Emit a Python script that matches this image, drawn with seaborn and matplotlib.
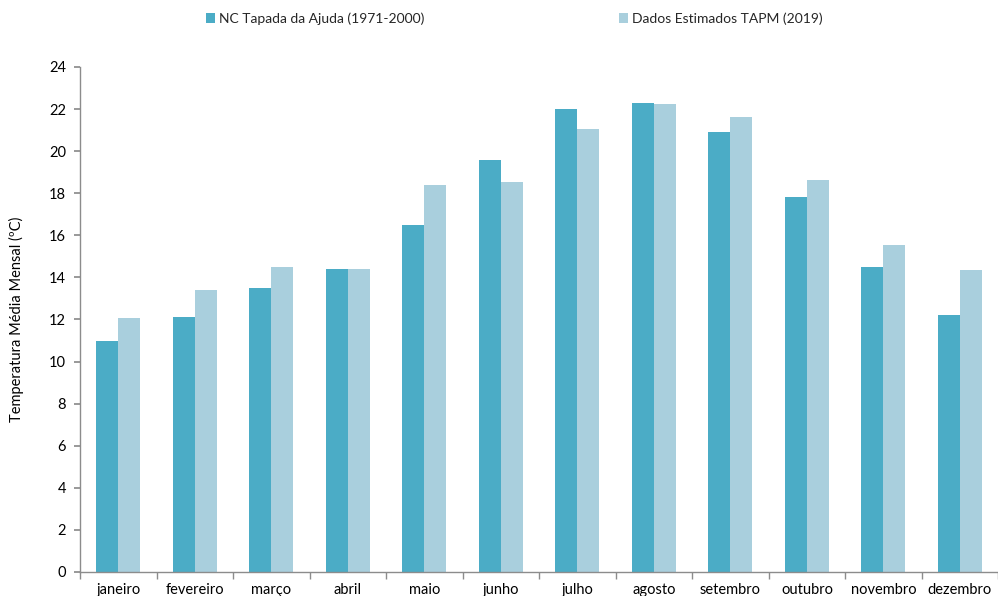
import matplotlib
matplotlib.use("Agg")
import matplotlib.pyplot as plt
from matplotlib.patches import Patch
import numpy as np
import pandas as pd
import seaborn as sns

months = ["janeiro", "fevereiro", "março", "abril", "maio", "junho",
          "julho", "agosto", "setembro", "outubro", "novembro", "dezembro"]
normal_1971_2000 = [11.0, 12.1, 13.5, 14.4, 16.5, 19.6, 22.0, 22.3, 20.9, 17.8, 14.5, 12.2]
tapm_2019 = [12.05, 13.4, 14.5, 14.4, 18.4, 18.55, 21.05, 22.25, 21.6, 18.65, 15.55, 14.35]
series_names = ["NC Tapada da Ajuda (1971-2000)", "Dados Estimados TAPM (2019)"]
colors = ["#4BACC6", "#A9CFDD"]

df = pd.DataFrame({
    "mes": months * 2,
    "temp": normal_1971_2000 + tapm_2019,
    "serie": [series_names[0]] * 12 + [series_names[1]] * 12,
})

sns.set_theme(style="white")
plt.rcParams["font.family"] = ["Lato", "DejaVu Sans"]

fig = plt.figure(figsize=(9.98, 5.96), dpi=100)
ax = fig.add_axes([0.0802, 0.0403, 0.92, 0.8473])

sns.barplot(data=df, x="mes", y="temp", hue="serie", order=months,
            hue_order=series_names, palette=colors, width=0.575,
            saturation=1, ax=ax, legend=False, errorbar=None, linewidth=0)

ax.set_ylim(0, 24)
ax.set_yticks(np.arange(0, 25, 2))
ax.set_xlim(-0.5, 11.5)
ax.set_xlabel("")
ax.set_ylabel("Temperatura Média Mensal (ºC)", fontsize=10.5, color="black", labelpad=18)

ax.tick_params(axis="y", which="major", labelsize=10.5, colors="black",
               length=4, direction="out", left=True, color="#8c8c8c", pad=6)
ax.tick_params(axis="x", which="major", labelsize=10.5, colors="black",
               length=0, pad=8)
ax.set_xticks(np.arange(-0.5, 12, 1), minor=True)
ax.tick_params(axis="x", which="minor", length=5, direction="out",
               bottom=True, color="#8c8c8c")

for side in ["top", "right"]:
    ax.spines[side].set_visible(False)
for side in ["left", "bottom"]:
    ax.spines[side].set_color("#8c8c8c")
    ax.spines[side].set_linewidth(1.0)

handles = [Patch(facecolor=c, edgecolor="none", label=n) for c, n in zip(colors, series_names)]
fig.legend(handles=handles, loc="center", bbox_to_anchor=(0.515, 0.969), ncol=2,
           frameon=False, fontsize=10, handlelength=0.65, handleheight=0.65,
           handletextpad=0.3, columnspacing=14)

fig.savefig("out.png", dpi=100)
